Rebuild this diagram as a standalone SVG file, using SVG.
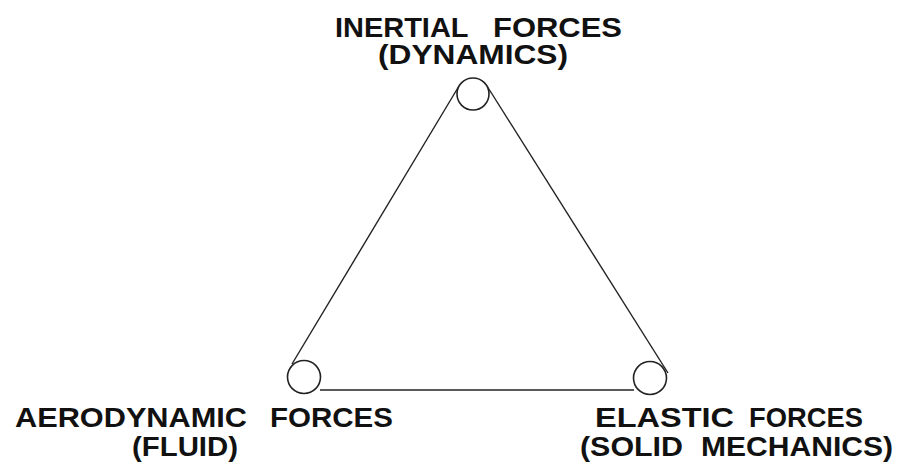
<svg xmlns="http://www.w3.org/2000/svg" width="901" height="466" viewBox="0 0 901 466">
<style>
.lbl{font-family:"Liberation Sans",Arial,sans-serif;font-weight:bold;font-size:28px;fill:#111}
.ln{stroke:#222;stroke-width:1.4;fill:none}
.nd{stroke:#222;stroke-width:1.6;fill:#fff}
</style>
<rect width="901" height="466" fill="#fff"/>
<g id="connectors">
<line class="ln" x1="459" y1="86" x2="292" y2="364"/>
<line class="ln" x1="487" y1="86" x2="668" y2="373"/>
<line class="ln" x1="320" y1="390" x2="634" y2="390"/>
</g>
<g id="inertial">
<circle class="nd" cx="473" cy="94" r="16"/>
<text class="lbl"><tspan x="335" y="37" textLength="133" lengthAdjust="spacingAndGlyphs">INERTIAL</tspan> <tspan x="493" y="37" textLength="129" lengthAdjust="spacingAndGlyphs">FORCES</tspan></text>
<text class="lbl" x="378" y="64" textLength="190" lengthAdjust="spacingAndGlyphs">(DYNAMICS)</text>
</g>
<g id="aerodynamic">
<circle class="nd" cx="304" cy="377" r="16.5"/>
<text class="lbl"><tspan x="15" y="427" textLength="232" lengthAdjust="spacingAndGlyphs">AERODYNAMIC</tspan> <tspan x="270" y="427" textLength="123" lengthAdjust="spacingAndGlyphs">FORCES</tspan></text>
<text class="lbl" x="132" y="456" textLength="106" lengthAdjust="spacingAndGlyphs">(FLUID)</text>
</g>
<g id="elastic">
<circle class="nd" cx="650" cy="378" r="16.5"/>
<text class="lbl"><tspan x="595" y="427" textLength="139" lengthAdjust="spacingAndGlyphs">ELASTIC</tspan> <tspan x="749" y="427" textLength="114" lengthAdjust="spacingAndGlyphs">FORCES</tspan></text>
<text class="lbl"><tspan x="580" y="456" textLength="103" lengthAdjust="spacingAndGlyphs">(SOLID</tspan> <tspan x="701" y="456" textLength="192" lengthAdjust="spacingAndGlyphs">MECHANICS)</tspan></text>
</g>
</svg>
